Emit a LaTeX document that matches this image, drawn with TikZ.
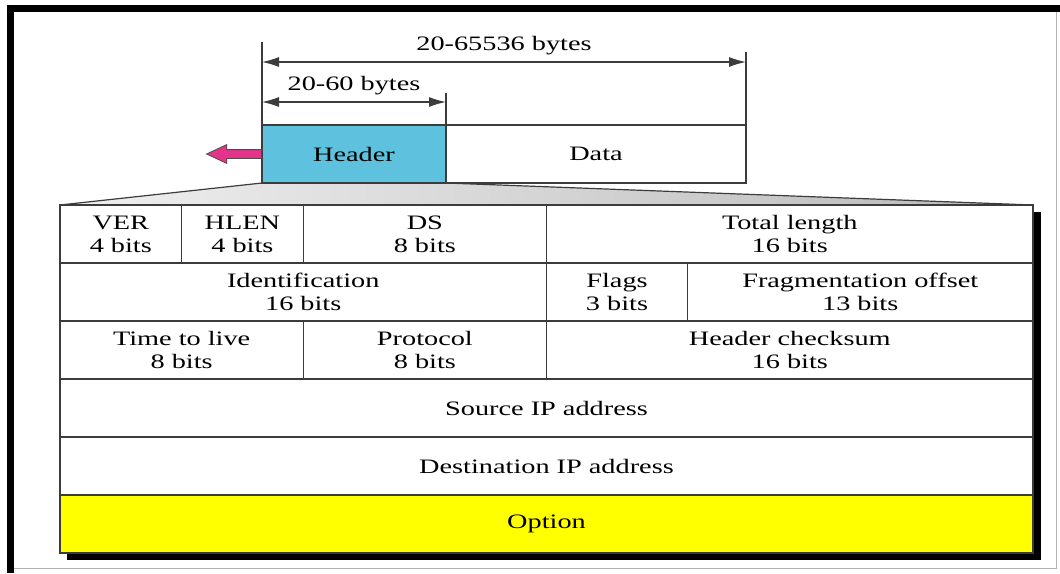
\documentclass[tikz,border=0pt]{standalone}
\usepackage{fontspec}
\setmainfont{Liberation Serif}[FakeStretch=1.38]
\usetikzlibrary{positioning}
\usetikzlibrary{calc}
\usetikzlibrary{shapes.arrows}
\usetikzlibrary{arrows.meta}
\usetikzlibrary{backgrounds}
\definecolor{hdrblue}{RGB}{94,194,222}
\definecolor{optyellow}{RGB}{255,255,0}
\definecolor{arrowpink}{RGB}{228,52,138}
\definecolor{rulegray}{RGB}{60,60,60}
\tikzstyle{field} = [rectangle, draw=rulegray, fill=white, line width=1.2pt, inner sep=0pt,
    outer sep=0pt, minimum height=58pt, align=center]
\tikzstyle{hdr} = [field, fill=hdrblue, minimum width=184pt]
\tikzstyle{payload} = [field, fill=white, minimum width=300pt]
\tikzstyle{optfield} = [field, fill=optyellow]
\tikzstyle{dimline} = [draw=rulegray, line width=1.2pt, <->]
\tikzstyle{extline} = [draw=rulegray, line width=1.2pt]
\tikzstyle{backarrow} = [single arrow, shape border rotate=180, draw=black!70,
    fill=arrowpink, line width=0.8pt, inner sep=4pt, minimum height=55pt,
    single arrow head extend=5pt, single arrow tip angle=50]
\tikzstyle{funnel} = [draw=rulegray, line width=1.2pt, left color=gray!12, right color=gray!55]

\begin{document}
\begin{tikzpicture}[x=1pt, y=-1pt, >={Latex[length=17pt,width=10pt]},
    font=\fontsize{20.5}{23}\selectfont]
    \useasboundingbox (0,0) rectangle (1060,573);
    % Frame
    \draw[gray!60, line width=0.8pt] (10,9) rectangle (1056,568);
    \fill[black] (7,5) rectangle (1060,12);
    \fill[black] (7,5) rectangle (14,573);
    % Datagram
    \node[hdr] (header) at (354,154) {Header};
    \node[payload, right=0pt of header] (data) {Data};
    \node[backarrow, anchor=tail] (back) at (header.west) {};
    % Sizes
    \coordinate (outerL) at ($(header.north west)+(0,-63)$);
    \coordinate (outerR) at (data.north east |- outerL);
    \coordinate (innerL) at ($(header.north west)+(0,-23)$);
    \coordinate (innerR) at (header.north east |- innerL);
    \draw[extline] (header.north west) -- ++(0,-83);
    \draw[extline] (data.north east) -- ++(0,-73);
    \draw[extline] (header.north east) -- ++(0,-32);
    \path[dimline] (outerL) -- node[above=3pt] {20-65536 bytes} (outerR);
    \path[dimline] (innerL) -- node[above=3pt] {20-60 bytes} (innerR);
    % Header fields
    \node[field, minimum width=121.6pt, anchor=north west] (ver) at (60,205) {VER\\4 bits};
    \node[field, minimum width=121.6pt, right=0pt of ver] (hlen) {HLEN\\4 bits};
    \node[field, minimum width=243.3pt, right=0pt of hlen] (ds) {DS\\8 bits};
    \node[field, minimum width=486.5pt, right=0pt of ds] (total) {Total length\\16 bits};
    \node[field, minimum width=486.5pt, anchor=north west] (ident) at (ver.south west) {Identification\\16 bits};
    \node[field, minimum width=141pt, right=0pt of ident] (flags) {Flags\\3 bits};
    \node[field, minimum width=345.5pt, right=0pt of flags] (frag) {Fragmentation offset\\13 bits};
    \node[field, minimum width=243.3pt, anchor=north west] (ttl) at (ident.south west) {Time to live\\8 bits};
    \node[field, minimum width=243.2pt, right=0pt of ttl] (proto) {Protocol\\8 bits};
    \node[field, minimum width=486.5pt, right=0pt of proto] (check) {Header checksum\\16 bits};
    \node[field, minimum width=973pt, anchor=north west] (src) at (ttl.south west) {Source IP address};
    \node[field, minimum width=973pt, anchor=north west] (dst) at (src.south west) {Destination IP address};
    \node[optfield, minimum width=973pt, anchor=north west] (option) at (dst.south west) {Option};
    % Funnel and shadow
    \begin{scope}[on background layer]
        \draw[funnel] (header.south west) -- (header.south east) -- (total.north east) -- (ver.north west) -- cycle;
        \fill[black] ($(ver.north west)+(7,7)$) rectangle ($(option.south east)+(8,7)$);
    \end{scope}
\end{tikzpicture}
\end{document}
